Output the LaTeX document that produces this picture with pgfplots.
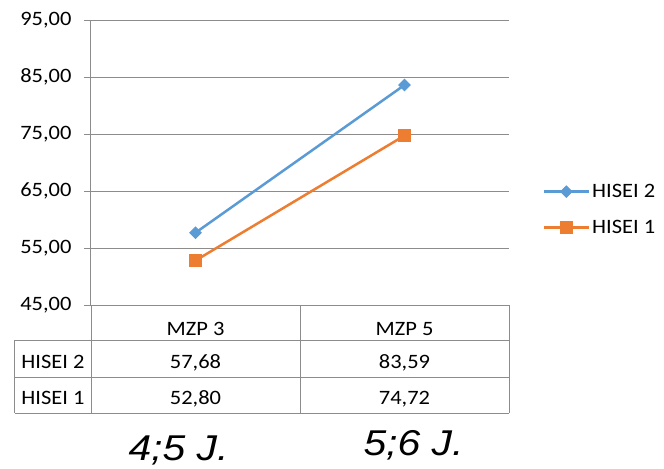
\documentclass[border=0pt]{standalone}
\usepackage{pgfplots}
\pgfplotsset{compat=1.18}
\usepackage{fontspec}
\setmainfont{Carlito}
\newfontfamily\arialfont{Liberation Sans}

\definecolor{hiseiblue}{HTML}{5B9BD5}
\definecolor{hiseiorange}{HTML}{ED7D31}
\definecolor{gridgray}{HTML}{8C8C8C}

\newcommand\chartfont{\fontsize{20.5}{24}\selectfont}
% slightly widened lettering
\newcommand\wide[1]{\scalebox{1.1}[1]{#1}}
\newcommand\agelabel[1]{\scalebox{1.14}[1]{#1}}

\begin{document}
\begin{tikzpicture}
\useasboundingbox (-91bp,-164bp) rectangle (573bp,305bp);
\begin{axis}[
  scale only axis, width=418bp, height=285bp,
  xmin=-0.5, xmax=1.5, ymin=45, ymax=95,
  xtick=\empty,
  ytick={45,55,...,95},
  ymajorgrids,
  grid style={gridgray, line width=1bp},
  axis lines*=left,
  axis line style={gridgray, line width=1bp, -},
  tick align=outside,
  major tick length=7bp,
  ytick style={gridgray, line width=1bp},
  yticklabel={\wide{\pgfmathprintnumber{\tick}}},
  yticklabel style={font=\chartfont, text=black, xshift=-9bp},
  /pgf/number format/.cd, fixed, fixed zerofill, precision=2, use comma, assume math mode=true,
  /pgfplots/.cd,
  clip=false,
  legend style={at={(1.08,0.335)}, anchor=west, draw=none, fill=none,
    font=\chartfont, row sep=17bp, inner sep=0pt},
  legend cell align=left,
  legend image code/.code={%
    \draw[#1, mark repeat=2, mark phase=2]
      plot coordinates {(0bp,0bp) (22.5bp,0bp) (45bp,0bp)};},
]
\addplot[hiseiblue, line width=2.5bp, mark=square*,
  mark options={rotate=45, line width=1bp, fill=hiseiblue}, mark size=4bp]
  coordinates {(0,57.68) (1,83.59)};
\addlegendentry{\wide{HISEI 2}}
\addplot[hiseiorange, line width=2.5bp, mark=square*,
  mark options={line width=1bp, fill=hiseiorange}, mark size=6bp]
  coordinates {(0,52.80) (1,74.72)};
\addlegendentry{\wide{HISEI 1}}
\end{axis}

% data table below the plot area
\begin{scope}[gridgray, line width=1bp]
  \draw (0bp,0bp) -- (0bp,-108bp);
  \draw (209bp,0bp) -- (209bp,-108bp);
  \draw (418bp,0bp) -- (418bp,-108bp);
  \draw (-76bp,-35bp) -- (-76bp,-108bp);
  \draw (-76bp,-35bp) -- (418bp,-35bp);
  \draw (-76bp,-72bp) -- (418bp,-72bp);
  \draw (-76bp,-108bp) -- (418bp,-108bp);
\end{scope}
\begin{scope}[every node/.style={font=\chartfont, anchor=base, inner sep=0pt}]
  \node at (104.5bp,-30bp) {\wide{MZP 3}};
  \node at (313.5bp,-30bp) {\wide{MZP 5}};
  \node at (-38bp,-63bp) {\wide{HISEI 2}};
  \node at (104.5bp,-63bp) {\wide{57,68}};
  \node at (313.5bp,-63bp) {\wide{83,59}};
  \node at (-38bp,-99bp) {\wide{HISEI 1}};
  \node at (104.5bp,-99bp) {\wide{52,80}};
  \node at (313.5bp,-99bp) {\wide{74,72}};
\end{scope}

% age labels
\node[font=\arialfont\itshape\fontsize{36}{40}\selectfont, anchor=base, inner sep=0pt]
  at (87.5bp,-155bp) {\agelabel{4;5 J.}};
\node[font=\arialfont\itshape\fontsize{36}{40}\selectfont, anchor=base, inner sep=0pt]
  at (322.5bp,-150bp) {\agelabel{5;6 J.}};
\end{tikzpicture}
\end{document}
